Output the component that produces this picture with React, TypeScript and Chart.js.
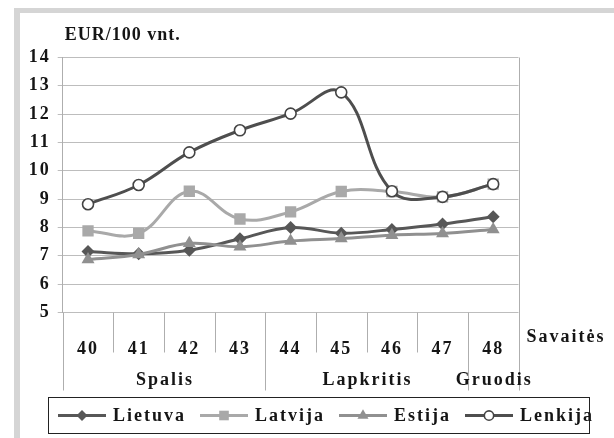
import React, { useEffect, useRef } from 'react';
import { Chart, registerables } from 'chart.js';

Chart.register(...registerables);

// ---- data ----
const weeks = ['40', '41', '42', '43', '44', '45', '46', '47', '48'];
const months = ['Spalis', 'Lapkritis', 'Gruodis'];
const monthWeekCounts = [4, 4, 1];
const lietuva = [7.15, 7.07, 7.2, 7.6, 8.0, 7.8, 7.93, 8.12, 8.38];
const latvija = [7.88, 7.79, 9.28, 8.3, 8.55, 9.27, 9.27, 9.08, 9.53];
const estija = [6.87, 7.05, 7.44, 7.32, 7.52, 7.61, 7.73, 7.79, 7.93];
const lenkija = [8.82, 9.5, 10.65, 11.43, 12.02, 12.77, 9.28, 9.08, 9.53];
const yMin = 5;
const yMax = 14;
const yStep = 1;
const yTitle = 'EUR/100 vnt.';
const xTitle = 'Savaitės';

const FAMILY = '"Liberation Serif", "Times New Roman", serif';
const TEXT = '#151515';
const SEP = '#aeaeae';

function drawMarker(ctx: CanvasRenderingContext2D, style: string, x: number, y: number, r: number, fill: string, stroke: string, bw: number) {
  ctx.beginPath();
  if (style === 'rectRot') {
    ctx.moveTo(x, y - r);
    ctx.lineTo(x + r, y);
    ctx.lineTo(x, y + r);
    ctx.lineTo(x - r, y);
    ctx.closePath();
  } else if (style === 'rect') {
    const s = r * Math.SQRT1_2;
    ctx.rect(x - s, y - s, 2 * s, 2 * s);
  } else if (style === 'triangle') {
    for (let i = 0; i < 3; i++) {
      const a = (i * 2 * Math.PI) / 3;
      const px = x + Math.sin(a) * r;
      const py = y - Math.cos(a) * r;
      if (i === 0) ctx.moveTo(px, py);
      else ctx.lineTo(px, py);
    }
    ctx.closePath();
  } else {
    ctx.arc(x, y, r, 0, Math.PI * 2);
  }
  ctx.fillStyle = fill;
  ctx.fill();
  if (bw > 0) {
    ctx.lineWidth = bw;
    ctx.strokeStyle = stroke;
    ctx.stroke();
  }
}

const decorPlugin = {
  id: 'decor',
  beforeDraw(chart: any) {
    const ctx = chart.ctx as any;
    ctx.letterSpacing = '2px';
    ctx.save();
    ctx.fillStyle = '#d5d5d5';
    ctx.fillRect(14, 8, chart.width - 14, 5);
    ctx.fillRect(14, 8, 6, chart.height - 8);
    ctx.restore();
  },
  afterDraw(chart: any) {
    const ctx = chart.ctx as any;
    const area = chart.chartArea;
    const xs = chart.scales.x;
    const step = xs.getPixelForValue(1) - xs.getPixelForValue(0);
    const first = xs.getPixelForValue(0) - step / 2;
    const monthBounds: number[] = [0];
    monthWeekCounts.forEach((c) => monthBounds.push(monthBounds[monthBounds.length - 1] + c));
    const shortEnd = area.bottom + 40;
    const longEnd = area.bottom + 78;

    ctx.save();
    ctx.letterSpacing = '2px';
    // separators
    ctx.strokeStyle = SEP;
    ctx.lineWidth = 1;
    for (let i = 0; i <= weeks.length; i++) {
      const x = Math.round(first + i * step) + 0.5;
      const isMonth = monthBounds.includes(i);
      ctx.beginPath();
      ctx.moveTo(x, i === weeks.length ? area.top : area.bottom);
      ctx.lineTo(x, isMonth ? longEnd : shortEnd);
      ctx.stroke();
    }
    // month labels
    ctx.fillStyle = TEXT;
    ctx.font = `bold 18px ${FAMILY}`;
    ctx.textAlign = 'center';
    ctx.textBaseline = 'middle';
    months.forEach((m, i) => {
      const a = first + monthBounds[i] * step;
      const b = first + monthBounds[i + 1] * step;
      ctx.fillText(m, (a + b) / 2 + 1, area.bottom + 68);
    });
    // x title
    ctx.textAlign = 'left';
    ctx.fillText(xTitle, area.right + 8, area.bottom + 25);
    // y title
    ctx.letterSpacing = '1px';
    ctx.fillText(yTitle, area.left + 2, 35);

    // legend
    const bx = 48.5, by = 397.5, bw = 541, bh = 36;
    ctx.strokeStyle = '#222';
    ctx.lineWidth = 1;
    ctx.strokeRect(bx, by, bw, bh);
    ctx.letterSpacing = '2px';
    ctx.font = `bold 18px ${FAMILY}`;
    const cy = by + bh / 2;
    let x = 58;
    chart.data.datasets.forEach((ds: any) => {
      ctx.strokeStyle = ds.borderColor;
      ctx.lineWidth = 3;
      ctx.beginPath();
      ctx.moveTo(x, cy);
      ctx.lineTo(x + 48, cy);
      ctx.stroke();
      drawMarker(ctx, ds.pointStyle, x + 24, cy, ds.pointRadius * 0.85, ds.pointBackgroundColor, ds.pointBorderColor, ds.pointBorderWidth);
      ctx.fillStyle = TEXT;
      ctx.textAlign = 'left';
      ctx.textBaseline = 'middle';
      ctx.fillText(ds.label, x + 55, cy + 1);
      x += 55 + ctx.measureText(ds.label).width + 14;
    });
    ctx.restore();
  },
};

export default function App() {
  const ref = useRef<HTMLCanvasElement>(null);
  useEffect(() => {
    const canvas = ref.current!;
    const font = { family: FAMILY, size: 18, weight: 'bold' as const };
    const chart = new Chart(canvas, {
      type: 'line',
      data: {
        labels: weeks,
        datasets: [
          {
            label: 'Lietuva', data: lietuva, borderColor: '#575757', backgroundColor: '#575757',
            pointStyle: 'rectRot', pointRadius: 6.5, pointBackgroundColor: '#575757', pointBorderColor: '#575757',
            pointBorderWidth: 0, borderWidth: 3, order: 4,
          },
          {
            label: 'Latvija', data: latvija, borderColor: '#a9a9a9', backgroundColor: '#a9a9a9',
            pointStyle: 'rect', pointRadius: 8, pointBackgroundColor: '#a9a9a9', pointBorderColor: '#a9a9a9',
            pointBorderWidth: 0, borderWidth: 3, order: 3,
          },
          {
            label: 'Estija', data: estija, borderColor: '#909090', backgroundColor: '#909090',
            pointStyle: 'triangle', pointRadius: 7.5, pointBackgroundColor: '#909090', pointBorderColor: '#909090',
            pointBorderWidth: 0, borderWidth: 3, order: 2,
          },
          {
            label: 'Lenkija', data: lenkija, borderColor: '#4e4e4e', backgroundColor: '#ffffff',
            pointStyle: 'circle', pointRadius: 5.5, pointBackgroundColor: '#ffffff', pointBorderColor: '#444444',
            pointBorderWidth: 1.6, borderWidth: 3, order: 1,
          },
        ] as any,
      },
      options: {
        responsive: false,
        animation: false,
        layout: { padding: { left: 0, right: 95.5, top: 57.5, bottom: 0 } },
        plugins: { legend: { display: false }, tooltip: { enabled: false } },
        elements: {
          line: { tension: 0.4, borderCapStyle: 'round', borderJoinStyle: 'round' },
        },
        scales: {
          x: {
            type: 'category',
            offset: true,
            grid: { display: false },
            border: { display: false },
            ticks: { font, color: TEXT, padding: 18, maxRotation: 0, autoSkip: false },
            afterFit: (s: any) => { s.height = 125.5; },
          },
          y: {
            min: yMin,
            max: yMax,
            ticks: { stepSize: yStep, font, color: TEXT, padding: 7 },
            grid: { color: '#bdbdbd', tickLength: 5, lineWidth: 1 },
            border: { color: SEP },
            afterFit: (s: any) => { s.width = 62.7; },
          },
        },
      } as any,
      plugins: [decorPlugin],
    });
    return () => chart.destroy();
  }, []);
  return (
    <div style={{ position: 'absolute', left: 0, top: 0, width: 614, height: 438, background: '#ffffff' }}>
      <canvas ref={ref} width={614} height={438} style={{ display: 'block' }} />
    </div>
  );
}
